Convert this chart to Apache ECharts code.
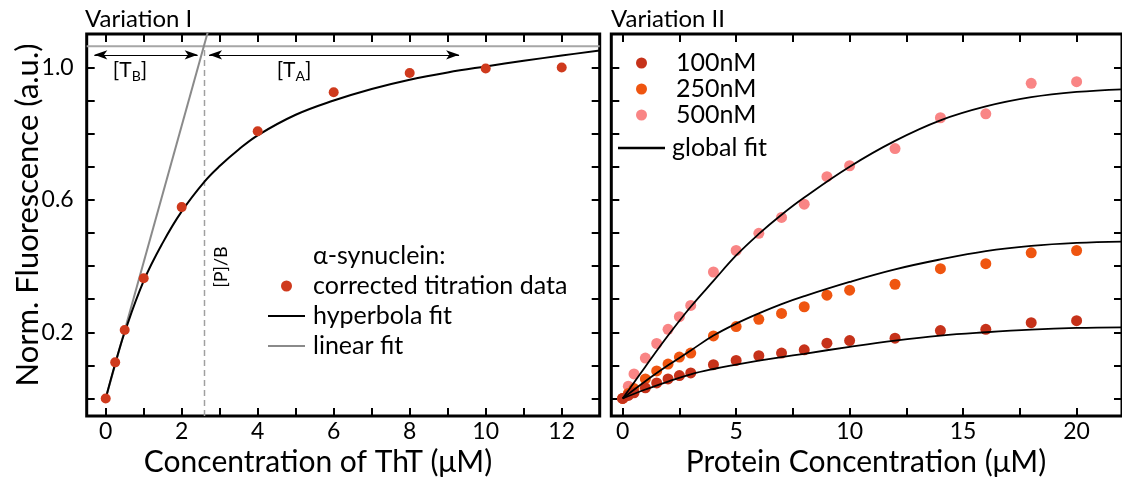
<!DOCTYPE html>
<html>
<head>
<meta charset="utf-8">
<script src="https://cdn.jsdelivr.net/npm/echarts@6/dist/echarts.min.js"></script>
<style>
  html, body { margin: 0; padding: 0; background: #ffffff; }
  #chart { width: 1122px; height: 478px; }
</style>
</head>
<body>
<div id="chart"></div>
<script>
// ---------- Variation I: ThT titration of alpha-synuclein ----------
const thtConc   = [0, 0.25, 0.5, 1, 2, 4, 6, 8, 10, 12];
const thtSignal = [0, 0.109, 0.207, 0.363, 0.578, 0.807, 0.925, 0.983, 0.997, 1.0];

// hyperbola fit curve
const hyperX = [0, 0.25, 0.5, 1, 1.5, 2, 2.6, 3, 3.5, 4, 5, 6, 7, 8, 9, 10, 11, 12, 13];
const hyperY = [0, 0.105, 0.2, 0.355, 0.47, 0.565, 0.655, 0.702, 0.752, 0.795, 0.857, 0.9, 0.935, 0.963, 0.985, 1.003, 1.02, 1.036, 1.051];

// linear fit of the initial slope
const linearX = [0, 3];
const linearY = [0, 1.236];

const plateau = 1.064;      // saturation level
const pOverB = 2.6;         // [P]/B
const arrowLevel = 1.038;
const spanTB = [-0.3, 2.42];
const spanTA = [2.72, 9.3];

// ---------- Variation II: protein titration at three ThT levels ----------
const proteinConc = [0, 0.25, 0.5, 1, 1.5, 2, 2.5, 3, 4, 5, 6, 7, 8, 9, 10, 12, 14, 16, 18, 20];
const sig100 = [0, 0.009, 0.017, 0.032, 0.047, 0.059, 0.069, 0.077, 0.102, 0.115, 0.129, 0.137, 0.147, 0.167, 0.175, 0.182, 0.205, 0.209, 0.229, 0.235];
const sig250 = [0, 0.015, 0.03, 0.059, 0.083, 0.104, 0.125, 0.137, 0.189, 0.217, 0.239, 0.257, 0.277, 0.312, 0.327, 0.345, 0.392, 0.407, 0.44, 0.447];
const sig500 = [0, 0.037, 0.074, 0.122, 0.166, 0.209, 0.247, 0.281, 0.382, 0.447, 0.499, 0.547, 0.587, 0.67, 0.703, 0.755, 0.848, 0.86, 0.952, 0.957];

// global fit curves
const fitX   = [0, 1, 2, 3, 4, 5, 6, 7, 8, 10, 12, 14, 16, 18, 20, 22];
const fit100 = [0, 0.027, 0.051, 0.073, 0.089, 0.102, 0.114, 0.125, 0.135, 0.156, 0.175, 0.19, 0.2, 0.208, 0.213, 0.215];
const fit250 = [0, 0.052, 0.1, 0.145, 0.19, 0.226, 0.257, 0.285, 0.309, 0.352, 0.39, 0.42, 0.445, 0.461, 0.47, 0.474];
const fit500 = [0, 0.096, 0.19, 0.277, 0.355, 0.432, 0.497, 0.555, 0.607, 0.7, 0.778, 0.84, 0.882, 0.91, 0.926, 0.934];

// ---------- ticks and labels ----------
const xTicksI  = [0, 1, 2, 3, 4, 5, 6, 7, 8, 9, 10, 11, 12];
const xLabelsI = [0, 2, 4, 6, 8, 10, 12];
const xTicksII  = [0, 2.5, 5, 7.5, 10, 12.5, 15, 17.5, 20];
const xLabelsII = [0, 5, 10, 15, 20];
const yTicks  = [0, 0.1, 0.2, 0.3, 0.4, 0.5, 0.6, 0.7, 0.8, 0.9, 1.0];
const yLabels = [0.2, 0.6, 1.0];

const rangeXI  = [-0.5, 13];
const rangeXII = [-0.5, 22];
const rangeY   = [-0.053, 1.101];

const FONT = 'Lato';
const C_DATA = '#cf3a1d';
const C_100 = '#c6321a';
const C_250 = '#ef5510';
const C_500 = '#f98585';
const LINE_ICON = 'path://M0,0H40V2H0Z';

const zip = (xs, ys) => xs.map((x, i) => [x, ys[i]]);

function xAxis(grid, range, ticks, labels, pos) {
  return {
    type: 'value', gridIndex: grid, position: pos,
    min: range[0], max: range[1],
    axisLine: { show: false, onZero: false },
    splitLine: { show: false },
    axisTick: { show: true, inside: true, length: 8, customValues: ticks,
                lineStyle: { color: '#000', width: 2 } },
    axisLabel: labels ? { show: true, customValues: labels, margin: 4,
                          color: '#000', fontFamily: FONT, fontSize: 23 }
                      : { show: false }
  };
}
function yAxis(grid, pos, labels) {
  return {
    type: 'value', gridIndex: grid, position: pos,
    min: rangeY[0], max: rangeY[1],
    axisLine: { show: false, onZero: false },
    splitLine: { show: false },
    axisTick: { show: true, inside: true, length: 8, customValues: yTicks,
                lineStyle: { color: '#000', width: 2 } },
    axisLabel: labels ? { show: true, customValues: labels, margin: 13,
                          formatter: v => v.toFixed(1),
                          color: '#000', fontFamily: FONT, fontSize: 23 }
                      : { show: false }
  };
}

const fitLine = (name, data, xi, yi, color, width) => ({
  name, type: 'line', xAxisIndex: xi, yAxisIndex: yi, data,
  smooth: 0.4, symbol: 'none', showSymbol: false, silent: true,
  lineStyle: { color, width }, itemStyle: { color }, z: 3
});

const chart = echarts.init(document.getElementById('chart'), null, { renderer: 'canvas' });

const textStyleBase = { fontFamily: FONT, fill: '#000' };
const legendText = (pad, lh) => ({ fontFamily: FONT, fontSize: 25, color: '#000', lineHeight: lh, padding: pad });

chart.setOption({
  animation: false,
  backgroundColor: '#ffffff',
  grid: [
    { left: 86.7, right: 522.3, top: 34, bottom: 62, show: true,
      borderColor: '#000', borderWidth: 3, backgroundColor: 'transparent' },
    { left: 611.3, right: -2, top: 34, bottom: 62, show: true,
      borderColor: '#000', borderWidth: 3, backgroundColor: 'transparent' }
  ],
  xAxis: [
    xAxis(0, rangeXI, xTicksI, xLabelsI, 'bottom'),
    xAxis(0, rangeXI, xTicksI, null, 'top'),
    xAxis(1, rangeXII, xTicksII, xLabelsII, 'bottom'),
    xAxis(1, rangeXII, xTicksII, null, 'top')
  ],
  yAxis: [
    yAxis(0, 'left', yLabels),
    yAxis(0, 'right', null),
    yAxis(1, 'left', null),
    yAxis(1, 'right', null)
  ],
  legend: [
    { data: [
        { name: 'corrected titration data', icon: 'circle' },
        { name: 'hyperbola fit', icon: LINE_ICON },
        { name: 'linear fit', icon: LINE_ICON }
      ],
      orient: 'vertical', left: 268, top: 272, padding: 0, itemGap: 2,
      itemWidth: 37, itemHeight: 11, selectedMode: false,
      textStyle: legendText([0, 0, 0, 3], 28) },
    { data: [
        { name: '100nM', icon: 'circle' },
        { name: '250nM', icon: 'circle' },
        { name: '500nM', icon: 'circle' }
      ],
      orient: 'vertical', left: 636, top: 50, padding: 0, itemGap: 0,
      itemWidth: 11, itemHeight: 11, selectedMode: false,
      textStyle: legendText([0, 0, 0, 24], 26) },
    { data: [{ name: 'global fit', icon: LINE_ICON }],
      orient: 'vertical', left: 618, top: 135, padding: 0,
      itemWidth: 47, itemHeight: 11, selectedMode: false,
      textStyle: legendText([0, 0, 0, 2], 26) }
  ],
  series: [
    // saturation level and [P]/B marker
    { type: 'line', xAxisIndex: 0, yAxisIndex: 0, silent: true, symbol: 'none',
      data: [[rangeXI[0], plateau], [rangeXI[1], plateau]],
      lineStyle: { color: '#a6a6a6', width: 2 }, z: 2,
      markLine: {
        silent: true, symbol: ['arrow', 'arrow'], symbolSize: [7, 13],
        label: { show: false },
        lineStyle: { color: '#000', width: 1, type: 'solid' },
        data: [
          [{ coord: [spanTB[0], arrowLevel] }, { coord: [spanTB[1], arrowLevel] }],
          [{ coord: [spanTA[0], arrowLevel] }, { coord: [spanTA[1], arrowLevel] }]
        ]
      } },
    { type: 'line', xAxisIndex: 0, yAxisIndex: 0, silent: true, symbol: 'none',
      data: [[pOverB, rangeY[0]], [pOverB, plateau]],
      lineStyle: { color: '#a0a0a0', width: 1.5, type: [6, 4] }, z: 2 },
    fitLine('linear fit', zip(linearX, linearY), 0, 0, '#8a8a8a', 2),
    fitLine('hyperbola fit', zip(hyperX, hyperY), 0, 0, '#000', 2),
    { name: 'corrected titration data', type: 'scatter', xAxisIndex: 0, yAxisIndex: 0,
      data: zip(thtConc, thtSignal), symbolSize: 10, itemStyle: { color: C_DATA, opacity: 1 }, z: 4 },

    // Variation II
    { name: '500nM', type: 'scatter', xAxisIndex: 2, yAxisIndex: 2,
      data: zip(proteinConc, sig500), symbolSize: 11, itemStyle: { color: C_500, opacity: 1 }, z: 2 },
    { name: '250nM', type: 'scatter', xAxisIndex: 2, yAxisIndex: 2,
      data: zip(proteinConc, sig250), symbolSize: 11, itemStyle: { color: C_250, opacity: 1 }, z: 2 },
    { name: '100nM', type: 'scatter', xAxisIndex: 2, yAxisIndex: 2,
      data: zip(proteinConc, sig100), symbolSize: 11, itemStyle: { color: C_100, opacity: 1 }, z: 2 },
    fitLine('global fit', zip(fitX, fit100), 2, 2, '#000', 1.8),
    fitLine('global fit', zip(fitX, fit250), 2, 2, '#000', 1.8),
    fitLine('global fit', zip(fitX, fit500), 2, 2, '#000', 1.8)
  ],
  graphic: [
    { type: 'text', x: 85, y: 19, silent: true,
      style: Object.assign({ text: 'Variation I', fontSize: 24, verticalAlign: 'middle' }, textStyleBase) },
    { type: 'text', x: 611, y: 19, silent: true,
      style: Object.assign({ text: 'Variation II', fontSize: 24, verticalAlign: 'middle' }, textStyleBase) },
    { type: 'text', x: 318, y: 462, silent: true,
      style: Object.assign({ text: 'Concentration of ThT (μM)', fontSize: 30, align: 'center', verticalAlign: 'middle' }, textStyleBase) },
    { type: 'text', x: 866, y: 462, silent: true,
      style: Object.assign({ text: 'Protein Concentration (μM)', fontSize: 30, align: 'center', verticalAlign: 'middle' }, textStyleBase) },
    { type: 'text', x: 28, y: 215, rotation: Math.PI / 2, silent: true,
      style: Object.assign({ text: 'Norm. Fluorescence (a.u.)', fontSize: 31, align: 'center', verticalAlign: 'middle' }, textStyleBase) },
    { type: 'text', x: 313, y: 256, silent: true,
      style: Object.assign({ text: 'α-synuclein:', fontSize: 25, verticalAlign: 'middle' }, textStyleBase) },
    { type: 'text', x: 221, y: 267, rotation: Math.PI / 2, silent: true,
      style: Object.assign({ text: '[P]/B', fontSize: 18, align: 'center', verticalAlign: 'middle' }, textStyleBase) },
    { type: 'text', x: 130, y: 70, silent: true,
      style: Object.assign({ text: '[T{s|B}]', fontSize: 21, align: 'center', verticalAlign: 'middle',
        rich: { s: { fontFamily: FONT, fontSize: 14, padding: [12, 0, 0, 0] } } }, textStyleBase) },
    { type: 'text', x: 294, y: 70, silent: true,
      style: Object.assign({ text: '[T{s|A}]', fontSize: 21, align: 'center', verticalAlign: 'middle',
        rich: { s: { fontFamily: FONT, fontSize: 14, padding: [12, 0, 0, 0] } } }, textStyleBase) }
  ]
});
</script>
</body>
</html>
